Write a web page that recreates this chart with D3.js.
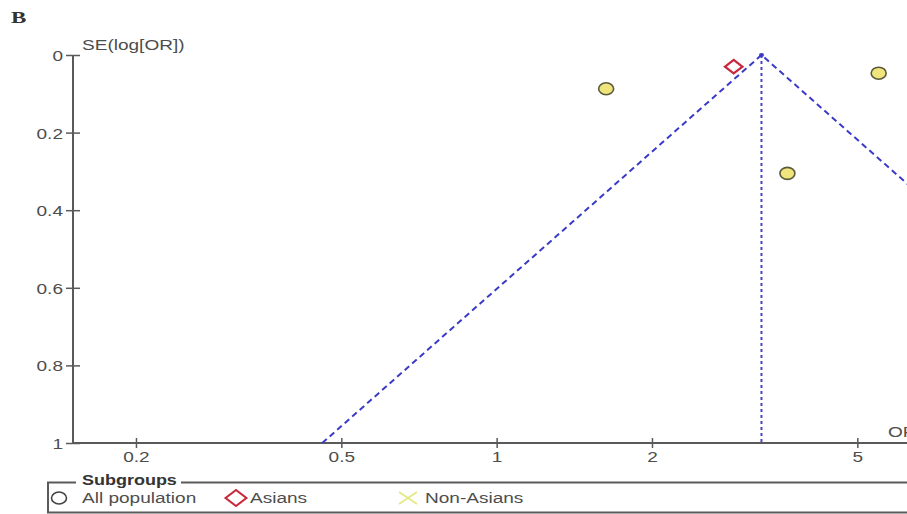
<!DOCTYPE html>
<html>
<head>
<meta charset="utf-8">
<script src="https://cdn.jsdelivr.net/npm/d3@7"></script>
<style>
  html, body { margin: 0; padding: 0; background: #fff; }
  svg text { font-family: "Liberation Sans", Arial, sans-serif; }
</style>
</head>
<body>
<svg id="chart" width="907" height="514"></svg>
<script>
// Funnel plot of study odds ratios against their standard errors
const xTicks = [0.2, 0.5, 1, 2, 5];
const yTicks = [0, 0.2, 0.4, 0.6, 0.8, 1];
const xDomain = [0.151, 6.6];
const yDomain = [0, 1];
const pooledOR = 3.26;

// studies: odds ratio, SE(log OR), subgroup
const studyOR = [1.63, 2.88, 5.50, 3.66];
const studySE = [0.087, 0.03, 0.047, 0.305];
const studyGroup = ["All population", "Asians", "All population", "All population"];

const legendLabels = ["All population", "Asians", "Non-Asians"];

// the figure is drawn with a wide aspect: glyphs and markers are stretched horizontally
const SX = 1.27;
const FS = 15;

const svg = d3.select("#chart");
svg.append("rect").attr("width", 907).attr("height", 514).attr("fill", "#fff");

const x = d3.scaleLog().domain(xDomain).range([73, 73 + Math.log10(xDomain[1] / xDomain[0]) * 516]);
const y = d3.scaleLinear().domain(yDomain).range([55, 443]);

const axisColor = "#5a5a5a";
const textColor = "#4d4d4d";

function label(parent, tx, ty, str, opts = {}) {
  const t = parent.append("text")
    .attr("transform", `translate(${tx},${ty}) scale(${opts.sx || SX},1)`)
    .attr("font-size", opts.size || FS)
    .attr("fill", opts.fill || textColor)
    .attr("text-anchor", opts.anchor || "start")
    .text(str);
  if (opts.bold) t.attr("font-weight", "bold");
  if (opts.family) t.style("font-family", opts.family);
  return t;
}

// panel letter
label(svg, 11, 23, "B", { size: 17, bold: true, fill: "#333", family: "'Liberation Serif', 'Times New Roman', serif", sx: 1.35 });

// y axis
const yAxis = d3.axisLeft(y).tickValues(yTicks).tickFormat(d3.format("")).tickSize(7);
const gy = svg.append("g").attr("transform", "translate(73,0)").call(yAxis);
gy.select(".domain").attr("stroke", axisColor).attr("stroke-width", 2).attr("d", `M0,${y(0)}V${y(1)}`);
gy.selectAll(".tick line").attr("stroke", axisColor).attr("stroke-width", 1.5).attr("x1", 7);
gy.selectAll(".tick text").attr("fill", textColor).attr("font-size", FS)
  .attr("x", 0).attr("dy", "0.36em").attr("transform", `translate(-10,0) scale(${SX},1)`);

// x axis
const xAxis = d3.axisBottom(x).tickValues(xTicks).tickFormat(d3.format("")).tickSize(5);
const gx = svg.append("g").attr("transform", `translate(0,${y(1)})`).call(xAxis);
gx.select(".domain").attr("stroke", axisColor).attr("stroke-width", 2).attr("d", `M${x(xDomain[0])},0H${x(xDomain[1])}`);
gx.selectAll(".tick line").attr("stroke", axisColor).attr("stroke-width", 1.5).attr("y1", -5);
gx.selectAll(".tick text").attr("fill", textColor).attr("font-size", FS)
  .attr("y", 0).attr("dy", 0).attr("transform", `translate(0,19) scale(${SX},1)`);

// axis titles
label(svg, 82, 50, "SE(log[OR])");
label(svg, 888, 437, "OR");

// pseudo 95% confidence limits
const funnelColor = "#3a3ac8";
const seMax = yDomain[1];
const lo = pooledOR * Math.exp(-1.96 * seMax);
const hi = pooledOR * Math.exp(1.96 * seMax);
const funnel = d3.line().x(d => x(d[0])).y(d => y(d[1]));
svg.append("path")
  .attr("d", funnel([[lo, seMax], [pooledOR, 0], [hi, seMax]]))
  .attr("fill", "none").attr("stroke", funnelColor).attr("stroke-width", 2)
  .attr("stroke-dasharray", "6,4");
svg.append("path")
  .attr("d", funnel([[pooledOR, 0], [pooledOR, seMax]]))
  .attr("fill", "none").attr("stroke", "#4848c0").attr("stroke-width", 2)
  .attr("stroke-dasharray", "3,3");
svg.append("ellipse").attr("cx", x(pooledOR)).attr("cy", y(0)).attr("rx", 2.5).attr("ry", 2).attr("fill", funnelColor);

// study markers
const studies = studyOR.map((or, i) => ({ or, se: studySE[i], group: studyGroup[i] }));
const diamond = d3.symbol().type(d3.symbolSquare).size(90);
studies.forEach(d => {
  if (d.group === "Asians") {
    svg.append("path").attr("d", diamond())
      .attr("transform", `translate(${x(d.or)},${y(d.se)}) scale(1.3,1) rotate(45)`)
      .attr("fill", "#fff").attr("stroke", "#c8283a").attr("stroke-width", 2);
  } else {
    svg.append("ellipse").attr("cx", x(d.or)).attr("cy", y(d.se)).attr("rx", 7.5).attr("ry", 6)
      .attr("fill", "#efe57c").attr("stroke", "#5a5a3a").attr("stroke-width", 1.6);
  }
});

// legend
const lg = svg.append("g");
lg.append("path")
  .attr("d", "M76,482.5H48V512.5H910M181,482.5H910")
  .attr("fill", "none").attr("stroke", axisColor).attr("stroke-width", 2);
label(lg, 82, 485, "Subgroups", { bold: true, fill: "#333", sx: 1.2 });
const ly = 498;
lg.append("ellipse").attr("cx", 59).attr("cy", ly).attr("rx", 7.5).attr("ry", 6)
  .attr("fill", "#fff").attr("stroke", "#444").attr("stroke-width", 1.6);
lg.append("path").attr("d", d3.symbol().type(d3.symbolSquare).size(130)())
  .attr("transform", `translate(236,${ly}) scale(1.3,1) rotate(45)`)
  .attr("fill", "#fff").attr("stroke", "#c8283a").attr("stroke-width", 1.8);
lg.append("path").attr("d", `M399,${ly - 6}L417,${ly + 6}M417,${ly - 6}L399,${ly + 6}`)
  .attr("stroke", "#e6ea86").attr("stroke-width", 2);
const legendX = [82, 250, 425];
legendLabels.forEach((t, i) => label(lg, legendX[i], 503, t));
</script>
</body>
</html>
